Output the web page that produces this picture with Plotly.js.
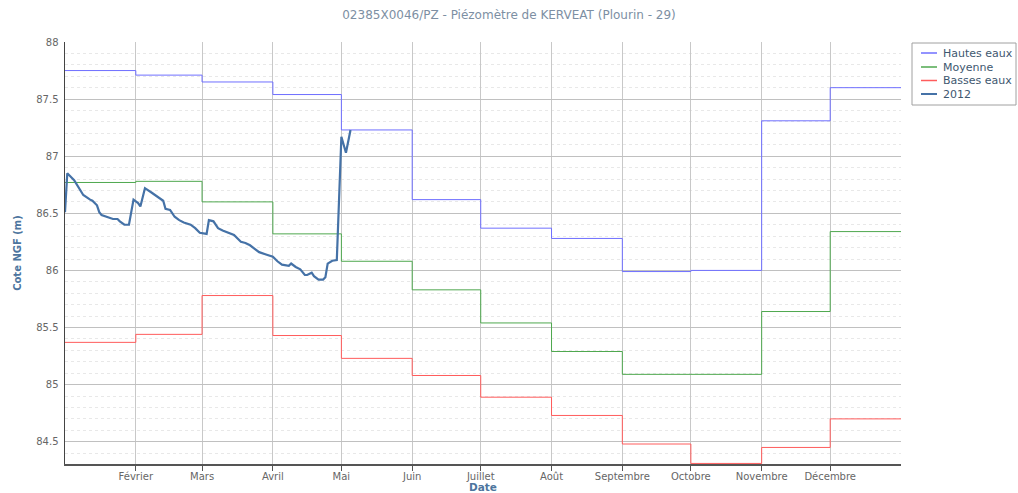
<!DOCTYPE html>
<html>
<head>
<meta charset="utf-8">
<script src="https://cdn.plot.ly/plotly-3.0.1.min.js"></script>
<style>html,body{margin:0;padding:0;background:#fff;}#chart{width:1018px;height:493px;}</style>
</head>
<body>
<div id="chart"></div>
<script>
// Month starts (step series) and their labels
const monthStarts = ['2012-01-01','2012-02-01','2012-03-01','2012-04-01','2012-05-01','2012-06-01',
  '2012-07-01','2012-08-01','2012-09-01','2012-10-01','2012-11-01','2012-12-01'];
const yearEnd = '2013-01-01';
const monthLabels = ['Janvier','Février','Mars','Avril','Mai','Juin','Juillet','Août','Septembre','Octobre','Novembre','Décembre'];

const hautesEaux = [87.75, 87.71, 87.65, 87.54, 87.23, 86.62, 86.37, 86.28, 85.99, 86.00, 87.31, 87.60];
const moyenne    = [86.77, 86.78, 86.60, 86.32, 86.08, 85.83, 85.54, 85.29, 85.09, 85.09, 85.64, 86.34];
const bassesEaux = [85.37, 85.44, 85.78, 85.43, 85.23, 85.08, 84.89, 84.73, 84.48, 84.31, 84.45, 84.70];

// 2012 observations
const dates2012 = ['2012-01-01','2012-01-02','2012-01-05','2012-01-07','2012-01-09','2012-01-12','2012-01-13',
  '2012-01-15','2012-01-16','2012-01-17','2012-01-20','2012-01-22','2012-01-24','2012-01-25','2012-01-27',
  '2012-01-29','2012-01-31','2012-02-02','2012-02-03','2012-02-05','2012-02-08','2012-02-10','2012-02-12',
  '2012-02-13','2012-02-14','2012-02-16','2012-02-18','2012-02-20','2012-02-22','2012-02-25','2012-02-27',
  '2012-02-29','2012-03-03','2012-03-04','2012-03-06','2012-03-08','2012-03-10','2012-03-13','2012-03-15',
  '2012-03-18','2012-03-20','2012-03-22','2012-03-24','2012-03-26','2012-03-29','2012-03-31','2012-04-01',
  '2012-04-03','2012-04-05','2012-04-08','2012-04-09','2012-04-11','2012-04-13','2012-04-15','2012-04-16',
  '2012-04-18','2012-04-19','2012-04-21','2012-04-23','2012-04-24','2012-04-25','2012-04-27','2012-04-29',
  '2012-05-01','2012-05-03','2012-05-05'];
const values2012 = [86.51,86.85,86.79,86.72,86.66,86.62,86.61,
  86.57,86.51,86.485,86.465,86.45,86.45,86.43,86.40,
  86.40,86.62,86.59,86.56,86.72,86.68,86.65,86.62,
  86.61,86.54,86.53,86.47,86.44,86.42,86.40,86.37,
  86.33,86.32,86.44,86.43,86.37,86.35,86.33,86.31,
  86.25,86.24,86.22,86.19,86.16,86.14,86.13,86.12,
  86.08,86.05,86.04,86.06,86.03,86.01,85.96,85.96,
  85.98,85.95,85.92,85.92,85.94,86.06,86.085,86.09,
  87.17,87.03,87.23];

const seriesNames  = ['Hautes eaux', 'Moyenne', 'Basses eaux', '2012'];
const seriesColors = ['#6f6fff', '#4fa84f', '#ff5c5c', '#4572a7'];
const seriesWidths = [1, 1, 1, 2.2];

const stepX = monthStarts.concat([yearEnd]);
const stepY = arr => arr.concat([arr[arr.length - 1]]);
const stepData = [hautesEaux, moyenne, bassesEaux];

const traces = stepData.map((vals, i) => ({
  x: stepX, y: stepY(vals), name: seriesNames[i], type: 'scatter', mode: 'lines',
  line: {shape: 'hv', color: seriesColors[i], width: seriesWidths[i]}, showlegend: false
}));
traces.push({x: dates2012, y: values2012, name: seriesNames[3], type: 'scatter', mode: 'lines',
  line: {color: seriesColors[3], width: seriesWidths[3]}, showlegend: false});

// plot area geometry (pixels)
const M = {l: 65, r: 117, t: 42, b: 29};
const W = 1018, H = 493;
const pw = W - M.l - M.r, ph = H - M.t - M.b;
const px = v => (v - M.l) / pw;          // pixel x -> paper
const py = v => (H - M.b - v) / ph;      // pixel y -> paper

const font = 'DejaVu Sans, Verdana, sans-serif';

// Legend (box, swatches, labels)
const shapes = [{type: 'rect', xref: 'paper', yref: 'paper', x0: px(912), x1: px(1016), y0: py(105), y1: py(43),
  line: {color: '#a0a0a0', width: 1}, fillcolor: '#ffffff', layer: 'above'}];
const annotations = [];
const itemY = [53, 67, 80.5, 94];
seriesNames.forEach((n, i) => {
  shapes.push({type: 'line', xref: 'paper', yref: 'paper', x0: px(921), x1: px(937), y0: py(itemY[i]), y1: py(itemY[i]),
    line: {color: seriesColors[i], width: i === 3 ? 2 : 1.5}, layer: 'above'});
  annotations.push({text: n, xref: 'paper', yref: 'paper', x: px(941), y: py(itemY[i]), xanchor: 'left', yanchor: 'middle',
    showarrow: false, font: {family: font, size: 11, color: '#3e576f'}});
});
annotations.push({text: 'Date', xref: 'paper', yref: 'paper', x: 0.5, y: py(486.5), xanchor: 'center', yanchor: 'middle',
  showarrow: false, font: {family: font, size: 10.5, color: '#4d759e', weight: 'bold'}});

const layout = {
  width: W, height: H,
  margin: {l: M.l, r: M.r, t: M.t, b: M.b, autoexpand: false},
  paper_bgcolor: '#ffffff', plot_bgcolor: '#ffffff',
  font: {family: font, size: 11, color: '#666666'},
  title: {text: '02385X0046/PZ - Piézomètre de KERVEAT (Plourin - 29)',
          font: {family: font, size: 12, color: '#7d8fa3'}, x: 0.5, xanchor: 'center', y: 0.97, yanchor: 'middle'},
  showlegend: false,
  xaxis: {
    type: 'date', range: [monthStarts[0], yearEnd], fixedrange: true,
    tickvals: monthStarts.slice(1), ticktext: monthLabels.slice(1),
    ticks: 'outside', ticklen: 5, tickcolor: '#555555', tickwidth: 1, ticklabelstandoff: -3,
    showgrid: true, gridcolor: '#c8c8c8', gridwidth: 1,
    showline: true, linecolor: '#555555', linewidth: 1.5,
    zeroline: false, automargin: false,
    tickfont: {family: font, size: 10, color: '#666666'}
  },
  yaxis: {
    range: [84.305, 88], fixedrange: true,
    tickvals: [84.5, 85, 85.5, 86, 86.5, 87, 87.5, 88],
    ticktext: ['84.5','85','85.5','86','86.5','87','87.5','88'],
    ticks: '', showgrid: true, gridcolor: '#c0c0c0', gridwidth: 1, ticklabelstandoff: 3,
    minor: {dtick: 0.1, tick0: 84, showgrid: true, gridcolor: '#e8e8e8', griddash: 'dot', gridwidth: 1, ticks: ''},
    showline: true, linecolor: '#444444', linewidth: 1.5,
    zeroline: false, automargin: false,
    tickfont: {family: font, size: 10, color: '#666666'},
    title: {text: 'Cote NGF (m)', standoff: 12, font: {family: font, size: 10, color: '#4d759e', weight: 'bold'}}
  },
  shapes: shapes,
  annotations: annotations,
  hovermode: false
};

Plotly.newPlot('chart', traces, layout, {displayModeBar: false, staticPlot: true});
</script>
</body>
</html>
